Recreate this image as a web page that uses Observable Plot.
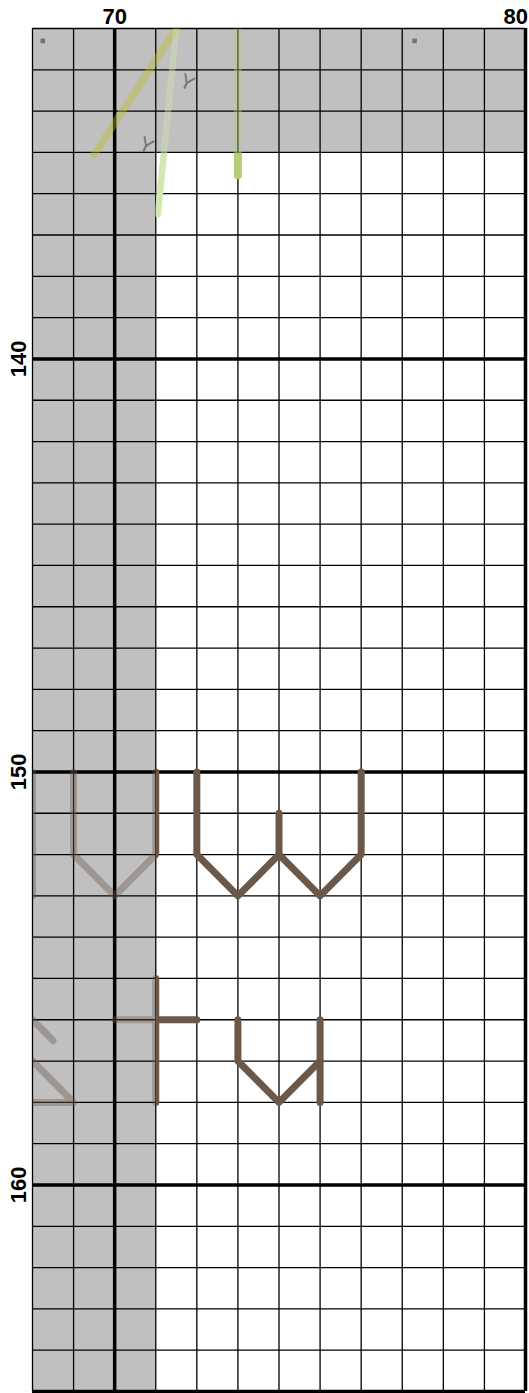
<!DOCTYPE html>
<html>
<head>
<meta charset="utf-8">
<script src="https://cdn.jsdelivr.net/npm/d3@7"></script>
<script src="https://cdn.jsdelivr.net/npm/@observablehq/plot@0.6"></script>
<style>
  body { margin: 0; background: #fff; }
  #chart svg { display: block; }
</style>
</head>
<body>
<div id="chart"></div>
<script>
// ---- data ----
const xTickLabels = [70, 80];
const yTickLabels = [140, 150, 160];
const xGrid = [68, 69, 70, 71, 72, 73, 74, 75, 76, 77, 78, 79, 80];
const yGrid = [132, 133, 134, 135, 136, 137, 138, 139, 140, 141, 142, 143, 144, 145, 146, 147, 148,
               149, 150, 151, 152, 153, 154, 155, 156, 157, 158, 159, 160, 161, 162, 163, 164, 165];
const xMajor = [70, 80];
const yMajor = [140, 150, 160, 165];
// shaded (greyed-out) zones
const shadeZones = [
  {x1: 68, x2: 71, y1: 132, y2: 165},
  {x1: 71, x2: 80, y1: 132, y2: 135}
];
// strokes (each a list of [x, y] points)
const brownStrokes = [
  [[68, 150], [68, 153]],
  [[69, 150], [69, 152], [70, 153], [71, 152], [71, 150]],
  [[72, 150], [72, 152], [73, 153], [74, 152], [75, 153], [76, 152], [76, 150]],
  [[74, 151], [74, 152]],
  [[67.5, 155.5], [68.5, 156.5]],
  [[67.5, 156.5], [69, 158], [67.5, 158]],
  [[71, 155], [71, 158]],
  [[70, 156], [72, 156]],
  [[73, 156], [73, 157], [74, 158], [75, 157]],
  [[75, 156], [75, 158]]
];
const oliveStrokes = [
  [[71.83, 131.5], [69.5, 135.05]]
];
const lightGreenStrokes = [
  [[71.55, 131.5], [71.05, 136.5]]
];
const greenStrokes = [
  [[73, 131.5], [73, 135.55]]
];
const squareMarks = [
  {x: 68.25, y: 132.3},
  {x: 77.3, y: 132.3}
];
const yMarks = [
  {x: 71.76, y: 133.31, label: "Y"},
  {x: 70.77, y: 134.83, label: "Y"}
];

const BROWN = "#6b5848";
const OLIVE = "#bcbd22";
const LIGHTGREEN = "#d2e7b2";
const GREEN = "#b6cd78";
const FONT = "'Liberation Sans', Arial, Helvetica, sans-serif";

function rows(strokes) {
  return strokes.flatMap((pts, i) => pts.map(([x, y]) => ({x, y, id: i})));
}

function content(tag) {
  const common = {x: "x", y: "y", z: "id", strokeLinecap: "round", strokeLinejoin: "round", ariaDescription: tag};
  return [
    Plot.line(rows(oliveStrokes), {...common, stroke: OLIVE, strokeWidth: 7.5}),
    Plot.line(rows(lightGreenStrokes), {...common, stroke: LIGHTGREEN, strokeWidth: 6.5}),
    Plot.line(rows(greenStrokes), {...common, stroke: GREEN, strokeWidth: 8}),
    Plot.line(rows(brownStrokes), {...common, stroke: BROWN, strokeWidth: 7}),
    Plot.dot(squareMarks, {x: "x", y: "y", symbol: "square", r: 2.6, fill: "#000", stroke: "none", ariaDescription: tag}),
    Plot.text(yMarks, {x: "x", y: "y", text: "label", fontSize: 21, rotate: 25, fill: "#000",
      fontFamily: FONT, fontWeight: "normal", ariaDescription: tag})
  ];
}

const plot = Plot.plot({
  width: 529,
  height: 1393,
  marginLeft: 32,
  marginRight: 4,
  marginTop: 28,
  marginBottom: 2,
  style: {fontFamily: FONT, background: "#fff", overflow: "visible"},
  x: {domain: [68, 80], axis: null},
  y: {domain: [132, 165], reverse: true, axis: null},
  marks: [
    Plot.rect(shadeZones, {x1: "x1", x2: "x2", y1: "y1", y2: "y2", fill: "#c0c0c0"}),
    Plot.ruleX(xGrid, {stroke: "#000", strokeWidth: 1.3}),
    Plot.ruleY(yGrid, {stroke: "#000", strokeWidth: 1.3}),
    Plot.ruleX(xMajor, {stroke: "#000", strokeWidth: 3.5}),
    Plot.ruleY(yMajor, {stroke: "#000", strokeWidth: 3.5}),
    ...content("faded"),
    ...content("full"),
    Plot.text(xTickLabels.filter(d => d !== 80), {x: d => d, y: () => 132, text: d => String(d), dy: -5,
      lineAnchor: "bottom", textAnchor: "middle", fontFamily: FONT,
      fontSize: 22, fontWeight: "bold", fill: "#000"}),
    Plot.text(xTickLabels.filter(d => d === 80), {x: d => d, y: () => 132, text: d => String(d), dy: -5, dx: 2.5,
      lineAnchor: "bottom", textAnchor: "end", fontFamily: FONT,
      fontSize: 22, fontWeight: "bold", fill: "#000"}),
    Plot.text(yTickLabels, {x: () => 68, y: d => d, text: d => String(d), dx: -14, rotate: -90,
      lineAnchor: "middle", textAnchor: "middle", fontFamily: FONT,
      fontSize: 22, fontWeight: "bold", fill: "#000"})
  ]
});

// clip regions: full-strength content in the open area, faded content in the shaded area
const ns = "http://www.w3.org/2000/svg";
const sx = plot.scale("x"), sy = plot.scale("y");
const defs = document.createElementNS(ns, "defs");
function clip(id, rects) {
  const cp = document.createElementNS(ns, "clipPath");
  cp.setAttribute("id", id);
  rects.forEach(r => {
    const el = document.createElementNS(ns, "rect");
    const x1 = sx.apply(r.x1), x2 = sx.apply(r.x2), y1 = sy.apply(r.y1), y2 = sy.apply(r.y2);
    el.setAttribute("x", Math.min(x1, x2));
    el.setAttribute("y", Math.min(y1, y2));
    el.setAttribute("width", Math.abs(x2 - x1));
    el.setAttribute("height", Math.abs(y2 - y1));
    cp.appendChild(el);
  });
  defs.appendChild(cp);
}
clip("clip-shade", shadeZones);
clip("clip-open", [{x1: 71, x2: 80, y1: 135, y2: 165}]);
plot.insertBefore(defs, plot.firstChild);
plot.querySelectorAll('[aria-description="faded"]').forEach(g => {
  g.setAttribute("clip-path", "url(#clip-shade)");
  g.setAttribute("opacity", "0.4");
});
plot.querySelectorAll('[aria-description="full"]').forEach(g => {
  g.setAttribute("clip-path", "url(#clip-open)");
});

document.getElementById("chart").appendChild(plot);
</script>
</body>
</html>
